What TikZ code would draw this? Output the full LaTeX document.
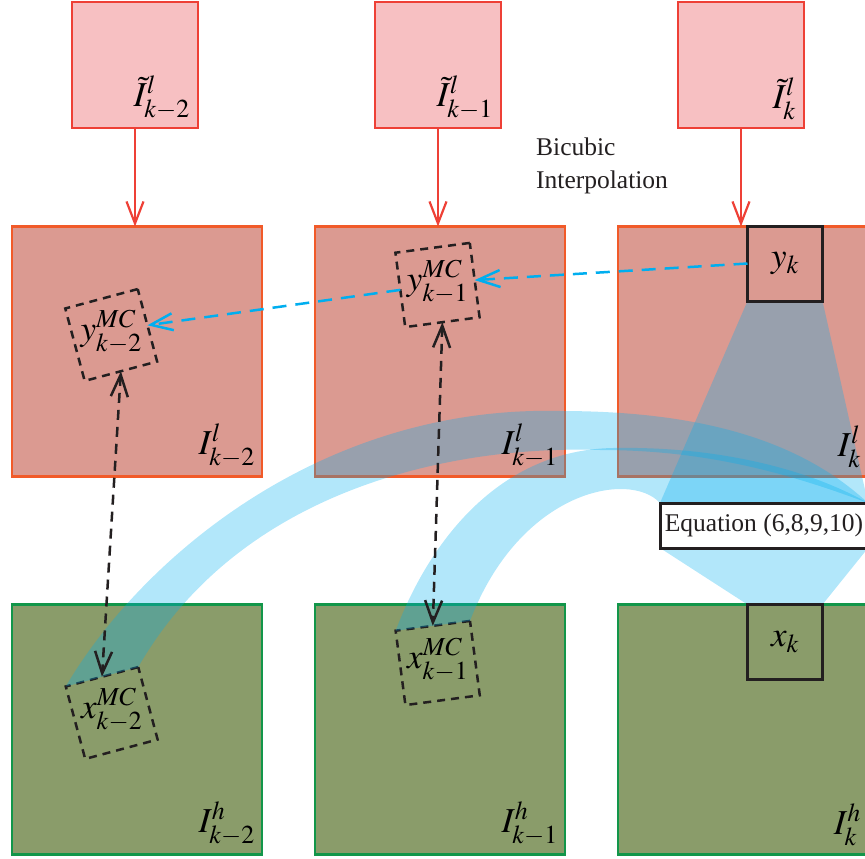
\documentclass[tikz,border=0pt]{standalone}
\usepackage{mathptmx}
\usepackage[no-math]{fontspec}
\setmainfont{Liberation Serif}
\usetikzlibrary{arrows.meta}

\definecolor{ink}{HTML}{231F20}
\definecolor{inred}{HTML}{EE4036}
\definecolor{inpink}{HTML}{F7C0C2}
\definecolor{lrorange}{HTML}{F15A29}
\definecolor{lrfill}{HTML}{DB9A91}
\definecolor{hrgreen}{HTML}{12964A}
\definecolor{hrfill}{HTML}{8A9C6A}
\definecolor{mvcyan}{HTML}{00AEEF}

\newcommand{\lblfont}{\fontsize{35}{40}\selectfont}
\newcommand{\txtfont}{\fontsize{25.5}{33}\selectfont}

\tikzset{
  sqbox/.style={minimum size=#1, inner sep=0pt, outer sep=0pt, line width=2.5pt},
  inbox/.style={sqbox=126pt, draw=inred, fill=inpink},
  lrbox/.style={sqbox=250pt, draw=lrorange, fill=lrfill},
  hrbox/.style={sqbox=250pt, draw=hrgreen, fill=hrfill},
  patch/.style={sqbox=75pt, draw=ink, line width=3pt, font=\lblfont},
  mcbox/.style={sqbox=75pt, draw=ink, dash pattern=on 8pt off 6pt},
  corner/.style={anchor=south east, inner sep=0pt, font=\lblfont},
  mclabel/.style={inner sep=0pt, font=\lblfont},
  barb/.tip={Straight Barb[length=22pt,width=17pt]},
  interp/.style={-barb, draw=inred, line width=2.2pt},
  motion/.style={-barb, draw=mvcyan, line width=2.5pt, dash pattern=on 14pt off 9pt},
  pair/.style={barb-barb, draw=ink, line width=2.5pt, dash pattern=on 10pt off 7pt},
  band/.style={fill=mvcyan, fill opacity=0.3}
}

\begin{document}
\begin{tikzpicture}[x=1pt,y=-1pt]
\useasboundingbox (0,0) rectangle (865,859);
\clip (0,0) rectangle (865,859);

% frames
\node[inbox] (in2) at (135,65) {};
\node[inbox] (in1) at (438,65) {};
\node[inbox] (in0) at (741,65) {};
\node[lrbox] (lr2) at (137,351.5) {};
\node[lrbox] (lr1) at (440,351.5) {};
\node[lrbox] (lr0) at (743,351.5) {};
\node[hrbox] (hr2) at (137,729.5) {};
\node[hrbox] (hr1) at (440,729.5) {};
\node[hrbox] (hr0) at (743,729.5) {};

\foreach \i in {2,1,0}
  \draw[interp] (in\i.south) -- (in\i.south |- lr\i.north);

\node[anchor=north west, align=left, inner sep=0pt, font=\txtfont, text=ink] (bicubic) at (536,138) {Bicubic\\Interpolation};

% patches
\node[patch] (yk) at (785,263.5) {$y_k$};
\node[patch] (xk) at (785,642) {$x_k$};
\node[mcbox, rotate=15] (ymc2) at (111.2,335) {};
\node[mcbox, rotate=7.5] (ymc1) at (437.5,285) {};
\node[mcbox, rotate=15] (xmc2) at (111.7,713) {};
\node[mcbox, rotate=7.5] (xmc1) at (437.7,663) {};
\coordinate (eqnw) at (660,503);
\coordinate (eqne) at (868,503);

% bands
\fill[band] (yk.south west) -- (eqnw) -- (660,548) -- (xk.north west)
  -- (xk.north east) -- (868,548) -- (eqne) -- (yk.south east) -- cycle;
\fill[band] (xmc2.north west) .. controls (140,560) and (320,405) .. (560,411)
  .. controls (700,411) and (800,440) .. (eqne)
  .. controls (780,470) and (700,450) .. (600,450)
  .. controls (450,445) and (240,490) .. (xmc2.north east) -- cycle;
\fill[band] (xmc1.north west) .. controls (430,540) and (500,450) .. (613,448)
  .. controls (720,446) and (810,470) .. (eqne) -- (eqnw)
  .. controls (630,470) and (520,490) .. (xmc1.north east) -- cycle;

\node[sqbox=208pt, line width=3pt, draw=ink, fill=white, minimum height=45pt, font=\txtfont, text=ink] (eq) at (764,525.5) {Equation (6,8,9,10)};

% redraw patch borders above the bands
\node[patch] at (yk) {};
\node[patch] at (xk) {};

\draw[motion] (yk.west) -- (ymc1.east);
\draw[motion] (ymc1.west) -- (ymc2.east);
\draw[pair] (ymc2.south) -- (xmc2.north);
\draw[pair] (ymc1.south) -- (xmc1.north);

% labels
\node[corner] (in2l) at ([shift={(-8,-8)}]in2.south east) {$\tilde{I}^{l}_{k-2}$};
\node[corner] (in1l) at ([shift={(-8,-8)}]in1.south east) {$\tilde{I}^{l}_{k-1}$};
\node[corner] (in0l) at ([shift={(-8,-8)}]in0.south east) {$\tilde{I}^{l}_{k}$};
\node[corner] (lr2l) at ([shift={(-7,-9)}]lr2.south east) {$I^{l}_{k-2}$};
\node[corner] (lr1l) at ([shift={(-7,-9)}]lr1.south east) {$I^{l}_{k-1}$};
\node[corner] (lr0l) at ([shift={(-7,-9)}]lr0.south east) {$I^{l}_{k}$};
\node[corner] (hr2l) at ([shift={(-7,-9)}]hr2.south east) {$I^{h}_{k-2}$};
\node[corner] (hr1l) at ([shift={(-7,-9)}]hr1.south east) {$I^{h}_{k-1}$};
\node[corner] (hr0l) at ([shift={(-7,-9)}]hr0.south east) {$I^{h}_{k}$};
\node[mclabel] (ymc2l) at ([yshift=3]ymc2.center) {$y^{MC}_{k-2}$};
\node[mclabel] (ymc1l) at ([yshift=3]ymc1.center) {$y^{MC}_{k-1}$};
\node[mclabel] (xmc2l) at ([yshift=3]xmc2.center) {$x^{MC}_{k-2}$};
\node[mclabel] (xmc1l) at ([yshift=3]xmc1.center) {$x^{MC}_{k-1}$};
\end{tikzpicture}
\end{document}
